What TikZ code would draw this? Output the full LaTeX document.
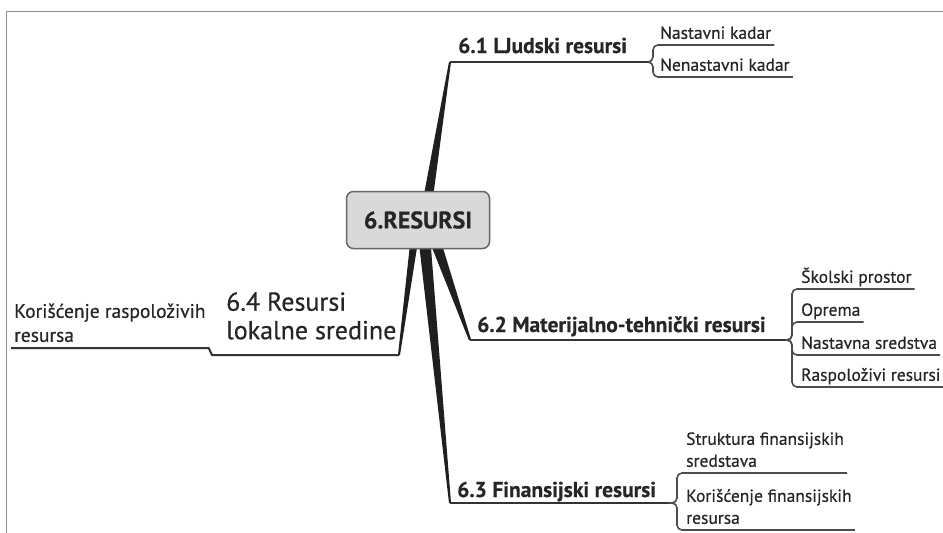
\documentclass[tikz,border=0pt]{standalone}
\usepackage{fontspec}
\setmainfont{PT Sans}[FakeBold=0.5]

\begin{document}
\begin{tikzpicture}[
  x=1pt, y=-1pt,
  wedge/.style = {fill=black!88},
  trunk/.style = {line width=2pt, draw=black!80},
  twig/.style = {line width=1.6pt, draw=black!70, rounded corners=5pt},
  root/.style = {draw=black!60, fill=black!15, line width=1.5pt, rounded corners=7pt,
    minimum width=143pt, minimum height=57pt, text=black!85,
    font=\fontsize{24}{28}\selectfont\bfseries},
  topic/.style = {inner sep=0pt, anchor=base west, text=black!85,
    font=\fontsize{21.5}{26}\selectfont\bfseries},
  leaf/.style = {anchor=south west, align=left, inner xsep=3pt, inner ysep=6pt,
    text depth=0pt, text=black!85, font=\fontsize{17.5}{22}\selectfont}
]

  \useasboundingbox (0,0) rectangle (943,533);
  \draw[black!45, line width=1pt] (6,533) -- (6,11) -- (943,11);

  % branch starts inside the box, corners, junctions
  \coordinate (s1) at (427,205);
  \coordinate (s2) at (433,235);
  \coordinate (s3) at (424,235);
  \coordinate (s4) at (415,235);
  \coordinate (c1) at (450,62);
  \coordinate (c2) at (470,340);
  \coordinate (c3) at (450,503);
  \coordinate (c4) at (399,355);
  \coordinate (j1) at (648,62);
  \coordinate (j2) at (785,340);
  \coordinate (j3) at (673,503);
  \coordinate (j4) at (212,355);

  \fill[wedge] ([xshift=-5]s1) -- ([xshift=5]s1) -- ([xshift=1]c1) -- ([xshift=-1]c1) -- cycle;
  \fill[wedge] ([xshift=-6]s2) -- ([xshift=6]s2) -- ([xshift=1.2]c2) -- ([xshift=-1.2]c2) -- cycle;
  \fill[wedge] ([xshift=-6]s3) -- ([xshift=6]s3) -- ([xshift=1]c3) -- ([xshift=-1]c3) -- cycle;
  \fill[wedge] ([xshift=-4]s4) -- ([xshift=4]s4) -- ([xshift=1]c4) -- ([xshift=-1]c4) -- cycle;

  \node[root] (root) at (418,220) {6.RESURSI};

  \node[topic] (t1) at (458,53) {6.1 LJudski resursi};
  \node[topic] (t2) at (477,332) {6.2 Materijalno-tehnički resursi};
  \node[topic] (t3) at (457,497) {6.3 Finansijski resursi};
  \node[inner sep=0pt, anchor=north west, align=left, text=black!85,
    font=\fontsize{26}{28.5}\selectfont] (t4) at (226,292) {6.4 Resursi\\lokalne sredine};

  \node[leaf] (n11) at (657,45) {Nastavni kadar};
  \node[leaf] (n12) at (657,77) {Nenastavni kadar};
  \node[leaf] (n21) at (798,289) {Školski prostor};
  \node[leaf] (n22) at (798,322) {Oprema};
  \node[leaf] (n23) at (798,355) {Nastavna sredstva};
  \node[leaf] (n24) at (798,387) {Raspoloživi resursi};
  \node[leaf] (n31) at (683,473) {Struktura finansijskih\\sredstava};
  \node[leaf] (n32) at (683,530) {Korišćenje finansijskih\\resursa};
  \node[leaf, font=\fontsize{19.5}{24}\selectfont] (n41) at (11,348) {Korišćenje raspoloživih\\resursa};

  \draw[trunk] (c1) -- (j1);
  \draw[trunk] (c2) -- (j2);
  \draw[trunk] (c3) -- (j3);
  \draw[trunk] (c4) -- (j4) -- (n41.south east) -- (n41.south west);

  \draw[twig] (j1) -| ([xshift=-4]n11.south west) -- (n11.south east);
  \draw[twig] (j1) -| ([xshift=-4]n12.south west) -- (n12.south east);
  \draw[twig] (j2) -| ([xshift=-6]n21.south west) -- (n21.south east);
  \draw[twig] (j2) -| ([xshift=-6]n22.south west) -- (n22.south east);
  \draw[twig] (j2) -| ([xshift=-6]n23.south west) -- (n23.south east);
  \draw[twig] (j2) -| ([xshift=-6]n24.south west) -- (n24.south east);
  \draw[twig] (j3) -| ([xshift=-6]n31.south west) -- (n31.south east);
  \draw[twig] (j3) -| ([xshift=-6]n32.south west) -- (n32.south east);

\end{tikzpicture}
\end{document}
